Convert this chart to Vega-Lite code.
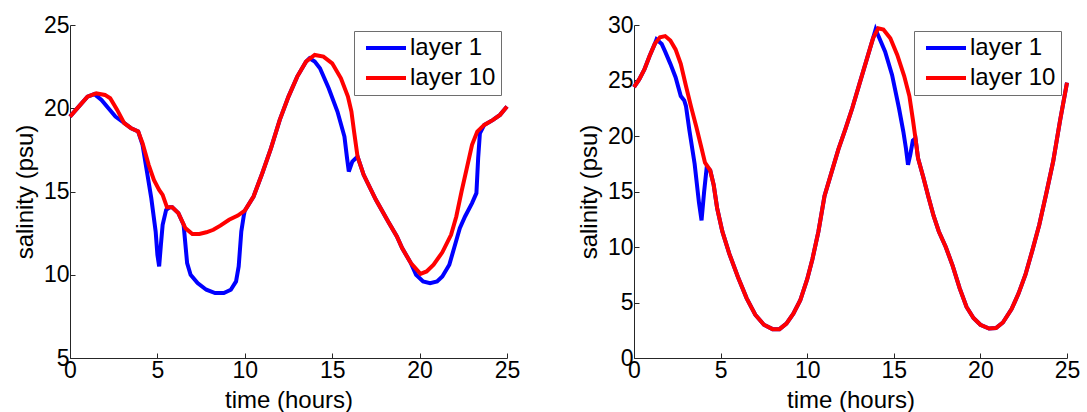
{
  "$schema": "https://vega.github.io/schema/vega-lite/v6.json",
  "background": "white",
  "padding": {"left": 13, "top": 14, "right": 0, "bottom": 0},
  "config": {
    "view": {"stroke": null},
    "font": "Liberation Sans",
    "axis": {
      "grid": false,
      "domainColor": "#262626",
      "tickColor": "#262626",
      "domainWidth": 1,
      "tickWidth": 1,
      "tickSize": -5,
      "labelColor": "#000000",
      "titleColor": "#000000",
      "labelFont": "Liberation Sans",
      "titleFont": "Liberation Sans",
      "labelFontSize": 23,
      "titleFontSize": 24,
      "titleFontWeight": "normal",
      "labelPadding": 6,
      "titlePadding": 6,
      "labelFlush": false,
      "labelOverlap": false
    },
    "legend": {
      "title": null,
      "orient": "top-right",
      "offset": 6,
      "symbolType": "M-2,0H2",
      "symbolSize": 400,
      "symbolOffset": 15,
      "symbolStrokeWidth": 4,
      "labelFont": "Liberation Sans",
      "labelFontSize": 24,
      "labelColor": "#000000",
      "labelLimit": 300,
      "labelOffset": 12,
      "strokeColor": "#6e6e6e",
      "fillColor": "white",
      "padding": 5,
      "rowPadding": 6
    },
    "line": {"strokeWidth": 4}
  },
  "datasets": {
    "left": [
      {"layer": "layer 1", "t": 0, "s": 19.5},
      {"layer": "layer 1", "t": 0.5, "s": 20.1},
      {"layer": "layer 1", "t": 1.0, "s": 20.7},
      {"layer": "layer 1", "t": 1.4, "s": 20.85},
      {"layer": "layer 1", "t": 1.8, "s": 20.5},
      {"layer": "layer 1", "t": 2.2, "s": 20.0},
      {"layer": "layer 1", "t": 2.6, "s": 19.5},
      {"layer": "layer 1", "t": 3.0, "s": 19.2},
      {"layer": "layer 1", "t": 3.5, "s": 18.8},
      {"layer": "layer 1", "t": 3.9, "s": 18.6},
      {"layer": "layer 1", "t": 4.15, "s": 17.8},
      {"layer": "layer 1", "t": 4.4, "s": 16.2},
      {"layer": "layer 1", "t": 4.65, "s": 14.6},
      {"layer": "layer 1", "t": 4.9, "s": 12.6},
      {"layer": "layer 1", "t": 5.0, "s": 11.2},
      {"layer": "layer 1", "t": 5.1, "s": 10.5},
      {"layer": "layer 1", "t": 5.2, "s": 11.8},
      {"layer": "layer 1", "t": 5.3, "s": 13.0},
      {"layer": "layer 1", "t": 5.5, "s": 13.9},
      {"layer": "layer 1", "t": 5.7, "s": 14.05},
      {"layer": "layer 1", "t": 5.85, "s": 14.05},
      {"layer": "layer 1", "t": 6.2, "s": 13.7},
      {"layer": "layer 1", "t": 6.5, "s": 13.0},
      {"layer": "layer 1", "t": 6.7, "s": 10.7},
      {"layer": "layer 1", "t": 6.9, "s": 10.0},
      {"layer": "layer 1", "t": 7.3, "s": 9.5},
      {"layer": "layer 1", "t": 7.8, "s": 9.1},
      {"layer": "layer 1", "t": 8.3, "s": 8.9},
      {"layer": "layer 1", "t": 8.8, "s": 8.9},
      {"layer": "layer 1", "t": 9.2, "s": 9.1},
      {"layer": "layer 1", "t": 9.5, "s": 9.6},
      {"layer": "layer 1", "t": 9.65, "s": 10.5},
      {"layer": "layer 1", "t": 9.8, "s": 12.6},
      {"layer": "layer 1", "t": 9.95, "s": 13.6},
      {"layer": "layer 1", "t": 10.0, "s": 13.85},
      {"layer": "layer 1", "t": 10.5, "s": 14.7},
      {"layer": "layer 1", "t": 11.0, "s": 16.1},
      {"layer": "layer 1", "t": 11.5, "s": 17.6},
      {"layer": "layer 1", "t": 12.0, "s": 19.3},
      {"layer": "layer 1", "t": 12.5, "s": 20.7},
      {"layer": "layer 1", "t": 13.0, "s": 21.9},
      {"layer": "layer 1", "t": 13.5, "s": 22.8},
      {"layer": "layer 1", "t": 13.7, "s": 23.0},
      {"layer": "layer 1", "t": 14.0, "s": 22.8},
      {"layer": "layer 1", "t": 14.3, "s": 22.4},
      {"layer": "layer 1", "t": 14.8, "s": 21.2},
      {"layer": "layer 1", "t": 15.3, "s": 19.8},
      {"layer": "layer 1", "t": 15.7, "s": 18.3},
      {"layer": "layer 1", "t": 15.85, "s": 17.0},
      {"layer": "layer 1", "t": 15.95, "s": 16.2},
      {"layer": "layer 1", "t": 16.15, "s": 16.8},
      {"layer": "layer 1", "t": 16.45, "s": 17.1},
      {"layer": "layer 1", "t": 16.8, "s": 16.0},
      {"layer": "layer 1", "t": 17.5, "s": 14.5},
      {"layer": "layer 1", "t": 18.2, "s": 13.2},
      {"layer": "layer 1", "t": 18.7, "s": 12.3},
      {"layer": "layer 1", "t": 19.0, "s": 11.6},
      {"layer": "layer 1", "t": 19.5, "s": 10.7},
      {"layer": "layer 1", "t": 19.8, "s": 10.0},
      {"layer": "layer 1", "t": 20.2, "s": 9.6},
      {"layer": "layer 1", "t": 20.6, "s": 9.5},
      {"layer": "layer 1", "t": 21.0, "s": 9.6},
      {"layer": "layer 1", "t": 21.3, "s": 9.9},
      {"layer": "layer 1", "t": 21.7, "s": 10.6},
      {"layer": "layer 1", "t": 22.0, "s": 11.7},
      {"layer": "layer 1", "t": 22.3, "s": 12.8},
      {"layer": "layer 1", "t": 22.6, "s": 13.5},
      {"layer": "layer 1", "t": 23.0, "s": 14.3},
      {"layer": "layer 1", "t": 23.25, "s": 14.9},
      {"layer": "layer 1", "t": 23.35, "s": 17.0},
      {"layer": "layer 1", "t": 23.45, "s": 18.5},
      {"layer": "layer 1", "t": 23.7, "s": 19.0},
      {"layer": "layer 1", "t": 24.2, "s": 19.3},
      {"layer": "layer 1", "t": 24.6, "s": 19.6},
      {"layer": "layer 1", "t": 25.0, "s": 20.1},

      {"layer": "layer 10", "t": 0, "s": 19.5},
      {"layer": "layer 10", "t": 0.5, "s": 20.1},
      {"layer": "layer 10", "t": 1.0, "s": 20.7},
      {"layer": "layer 10", "t": 1.5, "s": 20.9},
      {"layer": "layer 10", "t": 2.0, "s": 20.8},
      {"layer": "layer 10", "t": 2.3, "s": 20.6},
      {"layer": "layer 10", "t": 2.7, "s": 19.9},
      {"layer": "layer 10", "t": 3.1, "s": 19.1},
      {"layer": "layer 10", "t": 3.5, "s": 18.8},
      {"layer": "layer 10", "t": 3.9, "s": 18.6},
      {"layer": "layer 10", "t": 4.15, "s": 17.9},
      {"layer": "layer 10", "t": 4.5, "s": 16.6},
      {"layer": "layer 10", "t": 4.8, "s": 15.7},
      {"layer": "layer 10", "t": 5.1, "s": 15.1},
      {"layer": "layer 10", "t": 5.3, "s": 14.8},
      {"layer": "layer 10", "t": 5.55, "s": 14.05},
      {"layer": "layer 10", "t": 5.85, "s": 14.05},
      {"layer": "layer 10", "t": 6.2, "s": 13.7},
      {"layer": "layer 10", "t": 6.6, "s": 12.8},
      {"layer": "layer 10", "t": 7.0, "s": 12.45},
      {"layer": "layer 10", "t": 7.4, "s": 12.45},
      {"layer": "layer 10", "t": 7.8, "s": 12.55},
      {"layer": "layer 10", "t": 8.2, "s": 12.7},
      {"layer": "layer 10", "t": 8.6, "s": 12.95},
      {"layer": "layer 10", "t": 9.1, "s": 13.3},
      {"layer": "layer 10", "t": 9.6, "s": 13.55},
      {"layer": "layer 10", "t": 10.0, "s": 13.85},
      {"layer": "layer 10", "t": 10.5, "s": 14.7},
      {"layer": "layer 10", "t": 11.0, "s": 16.1},
      {"layer": "layer 10", "t": 11.5, "s": 17.6},
      {"layer": "layer 10", "t": 12.0, "s": 19.3},
      {"layer": "layer 10", "t": 12.5, "s": 20.7},
      {"layer": "layer 10", "t": 13.0, "s": 21.9},
      {"layer": "layer 10", "t": 13.5, "s": 22.8},
      {"layer": "layer 10", "t": 14.0, "s": 23.2},
      {"layer": "layer 10", "t": 14.5, "s": 23.1},
      {"layer": "layer 10", "t": 15.0, "s": 22.7},
      {"layer": "layer 10", "t": 15.5, "s": 21.8},
      {"layer": "layer 10", "t": 15.9, "s": 20.7},
      {"layer": "layer 10", "t": 16.1, "s": 19.8},
      {"layer": "layer 10", "t": 16.25, "s": 18.6},
      {"layer": "layer 10", "t": 16.45, "s": 17.1},
      {"layer": "layer 10", "t": 16.8, "s": 16.0},
      {"layer": "layer 10", "t": 17.5, "s": 14.5},
      {"layer": "layer 10", "t": 18.2, "s": 13.2},
      {"layer": "layer 10", "t": 18.7, "s": 12.3},
      {"layer": "layer 10", "t": 19.0, "s": 11.6},
      {"layer": "layer 10", "t": 19.5, "s": 10.7},
      {"layer": "layer 10", "t": 20.05, "s": 10.05},
      {"layer": "layer 10", "t": 20.4, "s": 10.2},
      {"layer": "layer 10", "t": 20.8, "s": 10.6},
      {"layer": "layer 10", "t": 21.3, "s": 11.35},
      {"layer": "layer 10", "t": 21.8, "s": 12.4},
      {"layer": "layer 10", "t": 22.1, "s": 13.5},
      {"layer": "layer 10", "t": 22.4, "s": 15.0},
      {"layer": "layer 10", "t": 22.7, "s": 16.4},
      {"layer": "layer 10", "t": 23.0, "s": 17.8},
      {"layer": "layer 10", "t": 23.3, "s": 18.6},
      {"layer": "layer 10", "t": 23.7, "s": 19.0},
      {"layer": "layer 10", "t": 24.2, "s": 19.3},
      {"layer": "layer 10", "t": 24.6, "s": 19.6},
      {"layer": "layer 10", "t": 25.0, "s": 20.1}
    ],
    "right": [
      {"layer": "layer 1", "t": 0, "s": 24.4},
      {"layer": "layer 1", "t": 0.3, "s": 25.1},
      {"layer": "layer 1", "t": 0.6, "s": 26.0},
      {"layer": "layer 1", "t": 0.9, "s": 27.2},
      {"layer": "layer 1", "t": 1.2, "s": 28.3},
      {"layer": "layer 1", "t": 1.3, "s": 28.7},
      {"layer": "layer 1", "t": 1.6, "s": 28.3},
      {"layer": "layer 1", "t": 1.8, "s": 27.6},
      {"layer": "layer 1", "t": 2.1, "s": 26.5},
      {"layer": "layer 1", "t": 2.4, "s": 25.3},
      {"layer": "layer 1", "t": 2.7, "s": 23.6},
      {"layer": "layer 1", "t": 2.9, "s": 23.2},
      {"layer": "layer 1", "t": 3.0, "s": 22.7},
      {"layer": "layer 1", "t": 3.2, "s": 20.5},
      {"layer": "layer 1", "t": 3.5, "s": 17.5},
      {"layer": "layer 1", "t": 3.75, "s": 14.0},
      {"layer": "layer 1", "t": 3.9, "s": 12.4},
      {"layer": "layer 1", "t": 4.05, "s": 15.0},
      {"layer": "layer 1", "t": 4.2, "s": 17.2},
      {"layer": "layer 1", "t": 4.4, "s": 16.9},
      {"layer": "layer 1", "t": 4.6, "s": 15.6},
      {"layer": "layer 1", "t": 4.8, "s": 13.5},
      {"layer": "layer 1", "t": 5.1, "s": 11.4},
      {"layer": "layer 1", "t": 5.5, "s": 9.4},
      {"layer": "layer 1", "t": 6.0, "s": 7.3},
      {"layer": "layer 1", "t": 6.5, "s": 5.4},
      {"layer": "layer 1", "t": 7.0, "s": 3.9},
      {"layer": "layer 1", "t": 7.5, "s": 3.0},
      {"layer": "layer 1", "t": 8.0, "s": 2.6},
      {"layer": "layer 1", "t": 8.4, "s": 2.6},
      {"layer": "layer 1", "t": 8.8, "s": 3.1},
      {"layer": "layer 1", "t": 9.2, "s": 4.0},
      {"layer": "layer 1", "t": 9.6, "s": 5.2},
      {"layer": "layer 1", "t": 10.0, "s": 7.1},
      {"layer": "layer 1", "t": 10.3, "s": 8.9},
      {"layer": "layer 1", "t": 10.65, "s": 11.4},
      {"layer": "layer 1", "t": 11.0, "s": 14.6},
      {"layer": "layer 1", "t": 11.4, "s": 16.7},
      {"layer": "layer 1", "t": 11.8, "s": 18.8},
      {"layer": "layer 1", "t": 12.2, "s": 20.6},
      {"layer": "layer 1", "t": 12.6, "s": 22.5},
      {"layer": "layer 1", "t": 13.0, "s": 24.6},
      {"layer": "layer 1", "t": 13.4, "s": 26.7},
      {"layer": "layer 1", "t": 13.8, "s": 28.8},
      {"layer": "layer 1", "t": 13.95, "s": 29.6},
      {"layer": "layer 1", "t": 14.2, "s": 28.7},
      {"layer": "layer 1", "t": 14.5, "s": 27.6},
      {"layer": "layer 1", "t": 14.9, "s": 25.5},
      {"layer": "layer 1", "t": 15.3, "s": 22.5},
      {"layer": "layer 1", "t": 15.55, "s": 20.4},
      {"layer": "layer 1", "t": 15.7, "s": 18.9},
      {"layer": "layer 1", "t": 15.82, "s": 17.4},
      {"layer": "layer 1", "t": 15.95, "s": 18.3},
      {"layer": "layer 1", "t": 16.1, "s": 19.6},
      {"layer": "layer 1", "t": 16.25, "s": 19.8},
      {"layer": "layer 1", "t": 16.4, "s": 18.0},
      {"layer": "layer 1", "t": 16.7, "s": 16.3},
      {"layer": "layer 1", "t": 17.0, "s": 14.5},
      {"layer": "layer 1", "t": 17.3, "s": 12.8},
      {"layer": "layer 1", "t": 17.6, "s": 11.4},
      {"layer": "layer 1", "t": 18.0, "s": 10.0},
      {"layer": "layer 1", "t": 18.4, "s": 8.3},
      {"layer": "layer 1", "t": 18.8, "s": 6.3},
      {"layer": "layer 1", "t": 19.2, "s": 4.6},
      {"layer": "layer 1", "t": 19.6, "s": 3.6},
      {"layer": "layer 1", "t": 20.0, "s": 3.0},
      {"layer": "layer 1", "t": 20.5, "s": 2.65},
      {"layer": "layer 1", "t": 20.9, "s": 2.7},
      {"layer": "layer 1", "t": 21.3, "s": 3.2},
      {"layer": "layer 1", "t": 21.8, "s": 4.4},
      {"layer": "layer 1", "t": 22.2, "s": 5.8},
      {"layer": "layer 1", "t": 22.6, "s": 7.5},
      {"layer": "layer 1", "t": 23.0, "s": 9.7},
      {"layer": "layer 1", "t": 23.4, "s": 12.0},
      {"layer": "layer 1", "t": 23.8, "s": 14.8},
      {"layer": "layer 1", "t": 24.2, "s": 17.7},
      {"layer": "layer 1", "t": 24.6, "s": 21.4},
      {"layer": "layer 1", "t": 25.0, "s": 24.8},

      {"layer": "layer 10", "t": 0, "s": 24.4},
      {"layer": "layer 10", "t": 0.3, "s": 25.1},
      {"layer": "layer 10", "t": 0.6, "s": 26.0},
      {"layer": "layer 10", "t": 0.9, "s": 27.2},
      {"layer": "layer 10", "t": 1.2, "s": 28.3},
      {"layer": "layer 10", "t": 1.5, "s": 28.9},
      {"layer": "layer 10", "t": 1.8, "s": 29.0},
      {"layer": "layer 10", "t": 2.1, "s": 28.6},
      {"layer": "layer 10", "t": 2.4, "s": 27.8},
      {"layer": "layer 10", "t": 2.7, "s": 26.5},
      {"layer": "layer 10", "t": 3.0, "s": 24.5},
      {"layer": "layer 10", "t": 3.3, "s": 22.6},
      {"layer": "layer 10", "t": 3.6, "s": 20.8},
      {"layer": "layer 10", "t": 3.9, "s": 18.9},
      {"layer": "layer 10", "t": 4.1, "s": 17.6},
      {"layer": "layer 10", "t": 4.4, "s": 16.9},
      {"layer": "layer 10", "t": 4.6, "s": 15.6},
      {"layer": "layer 10", "t": 4.8, "s": 13.5},
      {"layer": "layer 10", "t": 5.1, "s": 11.4},
      {"layer": "layer 10", "t": 5.5, "s": 9.4},
      {"layer": "layer 10", "t": 6.0, "s": 7.3},
      {"layer": "layer 10", "t": 6.5, "s": 5.4},
      {"layer": "layer 10", "t": 7.0, "s": 3.9},
      {"layer": "layer 10", "t": 7.5, "s": 3.0},
      {"layer": "layer 10", "t": 8.0, "s": 2.6},
      {"layer": "layer 10", "t": 8.4, "s": 2.6},
      {"layer": "layer 10", "t": 8.8, "s": 3.1},
      {"layer": "layer 10", "t": 9.2, "s": 4.0},
      {"layer": "layer 10", "t": 9.6, "s": 5.2},
      {"layer": "layer 10", "t": 10.0, "s": 7.1},
      {"layer": "layer 10", "t": 10.3, "s": 8.9},
      {"layer": "layer 10", "t": 10.65, "s": 11.4},
      {"layer": "layer 10", "t": 11.0, "s": 14.6},
      {"layer": "layer 10", "t": 11.4, "s": 16.7},
      {"layer": "layer 10", "t": 11.8, "s": 18.8},
      {"layer": "layer 10", "t": 12.2, "s": 20.6},
      {"layer": "layer 10", "t": 12.6, "s": 22.5},
      {"layer": "layer 10", "t": 13.0, "s": 24.6},
      {"layer": "layer 10", "t": 13.4, "s": 26.7},
      {"layer": "layer 10", "t": 13.8, "s": 28.8},
      {"layer": "layer 10", "t": 14.1, "s": 29.7},
      {"layer": "layer 10", "t": 14.4, "s": 29.6},
      {"layer": "layer 10", "t": 14.8, "s": 28.8},
      {"layer": "layer 10", "t": 15.2, "s": 27.3},
      {"layer": "layer 10", "t": 15.6, "s": 25.4},
      {"layer": "layer 10", "t": 15.9, "s": 23.6},
      {"layer": "layer 10", "t": 16.1, "s": 21.5},
      {"layer": "layer 10", "t": 16.25, "s": 19.8},
      {"layer": "layer 10", "t": 16.4, "s": 18.0},
      {"layer": "layer 10", "t": 16.7, "s": 16.3},
      {"layer": "layer 10", "t": 17.0, "s": 14.5},
      {"layer": "layer 10", "t": 17.3, "s": 12.8},
      {"layer": "layer 10", "t": 17.6, "s": 11.4},
      {"layer": "layer 10", "t": 18.0, "s": 10.0},
      {"layer": "layer 10", "t": 18.4, "s": 8.3},
      {"layer": "layer 10", "t": 18.8, "s": 6.3},
      {"layer": "layer 10", "t": 19.2, "s": 4.6},
      {"layer": "layer 10", "t": 19.6, "s": 3.6},
      {"layer": "layer 10", "t": 20.0, "s": 3.0},
      {"layer": "layer 10", "t": 20.5, "s": 2.65},
      {"layer": "layer 10", "t": 20.9, "s": 2.7},
      {"layer": "layer 10", "t": 21.3, "s": 3.2},
      {"layer": "layer 10", "t": 21.8, "s": 4.4},
      {"layer": "layer 10", "t": 22.2, "s": 5.8},
      {"layer": "layer 10", "t": 22.6, "s": 7.5},
      {"layer": "layer 10", "t": 23.0, "s": 9.7},
      {"layer": "layer 10", "t": 23.4, "s": 12.0},
      {"layer": "layer 10", "t": 23.8, "s": 14.8},
      {"layer": "layer 10", "t": 24.2, "s": 17.7},
      {"layer": "layer 10", "t": 24.6, "s": 21.4},
      {"layer": "layer 10", "t": 25.0, "s": 24.8}
    ]
  },
  "spacing": 57,
  "hconcat": [
    {
      "data": {"name": "left"},
      "width": 437,
      "height": 333,
      "mark": {"type": "line", "strokeWidth": 4},
      "encoding": {
        "x": {"field": "t", "type": "quantitative", "scale": {"domain": [0, 25], "nice": false}, "axis": {"values": [0, 5, 10, 15, 20, 25], "title": "time (hours)"}},
        "y": {"field": "s", "type": "quantitative", "scale": {"domain": [5, 25], "nice": false}, "axis": {"values": [5, 10, 15, 20, 25], "title": "salinity (psu)"}},
        "color": {
          "field": "layer", "type": "nominal",
          "scale": {"domain": ["layer 1", "layer 10"], "range": ["#0000ff", "#ff0000"]}
        }
      }
    },
    {
      "data": {"name": "right"},
      "width": 433,
      "height": 333,
      "mark": {"type": "line", "strokeWidth": 4},
      "encoding": {
        "x": {"field": "t", "type": "quantitative", "scale": {"domain": [0, 25], "nice": false}, "axis": {"values": [0, 5, 10, 15, 20, 25], "title": "time (hours)"}},
        "y": {"field": "s", "type": "quantitative", "scale": {"domain": [0, 30], "nice": false}, "axis": {"values": [0, 5, 10, 15, 20, 25, 30], "title": "salinity (psu)"}},
        "color": {
          "field": "layer", "type": "nominal",
          "scale": {"domain": ["layer 1", "layer 10"], "range": ["#0000ff", "#ff0000"]}
        }
      }
    }
  ],
  "resolve": {"scale": {"color": "independent"}, "legend": {"color": "independent"}}
}
